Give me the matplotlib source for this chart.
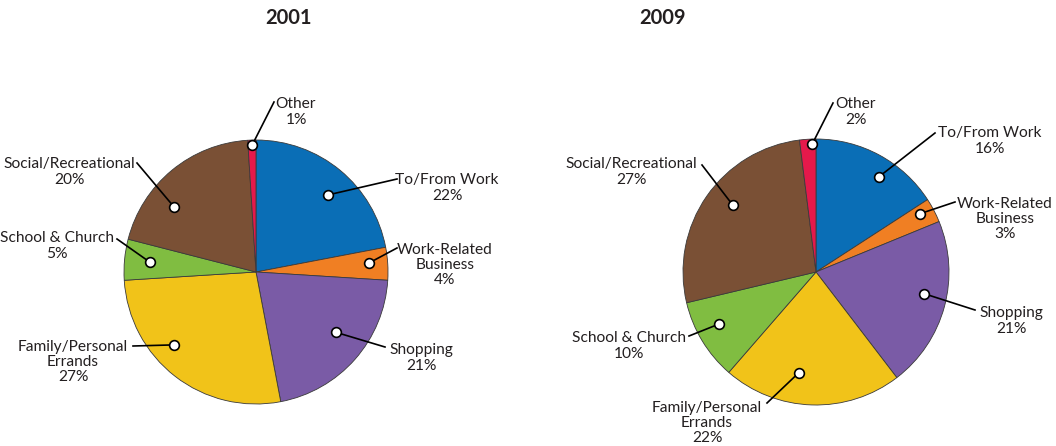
import numpy as np
import matplotlib
matplotlib.use("Agg")
import matplotlib.pyplot as plt

plt.rcParams['font.family'] = ['Lato', 'DejaVu Sans']

# data
categories = ['To/From Work', 'Work-Related\nBusiness', 'Shopping',
              'Family/Personal\nErrands', 'School & Church',
              'Social/Recreational', 'Other']
share_2001 = [22, 4, 21, 27, 5, 20, 1]
share_2009 = [16, 3, 21, 22, 10, 27, 2]
years = ['2001', '2009']

colors = ['#0A6EB6', '#F07F23', '#7A5BA6', '#F1C319', '#80BD41', '#7A5035', '#E5194B']

W, H = 1056, 446
fig = plt.figure(figsize=(W / 100, H / 100), dpi=100)
ax = fig.add_axes([0, 0, 1, 1])


def Y(y):
    return H - y


# layout: pie centre / radius in pixels, title position
pies = [
    dict(values=share_2001, center=(256, 272), radius=132, title=(288, 18),
         # (dot radius frac, angle shift, text x, text y, line end x, line end y)
         labels=[(0.80, -3.5, 447, 188, 397, 179),
                 (0.86, 1.0, 445, 265, 397, 248),
                 (0.76, 4.4, 421, 358, 385, 347),
                 (0.83, -10.5, 73, 362, 133, 346),
                 (0.81, 0.0, 57, 246, 117, 239),
                 (0.79, 12.0, 69, 172, 137, 163),
                 (0.96, 0.0, 296, 112, 274, 102)]),
    dict(values=share_2009, center=(816, 272), radius=133, title=(662, 18),
         labels=[(0.86, -5.0, 990, 141, 935, 133),
                 (0.90, 1.6, 1005, 219, 955, 202),
                 (0.83, 3.8, 1011, 321, 975, 310),
                 (0.77, -8.0, 707, 423, 767, 403),
                 (0.83, -3.0, 629, 346, 689, 336),
                 (0.80, -4.0, 631, 172, 702, 165),
                 (0.96, -1.8, 856, 112, 833, 103)]),
]

for year, p in zip(years, pies):
    cx, cy = p['center']
    r = p['radius']
    wedges, _ = ax.pie(p['values'], colors=colors, startangle=90, counterclock=False,
                       center=(cx, Y(cy)), radius=r,
                       wedgeprops=dict(edgecolor='#3a3a3a', linewidth=0.6))
    ax.text(p['title'][0], Y(p['title'][1]), year, ha='center', va='center',
            fontsize=14.5, color='#231F20', fontweight='bold')
    for w, cat, val, lab in zip(wedges, categories, p['values'], p['labels']):
        frac, shift, tx, ty, lx, ly = lab
        ang = np.deg2rad((w.theta1 + w.theta2) / 2 + shift)
        dx = cx + frac * r * np.cos(ang)
        dy = Y(cy) + frac * r * np.sin(ang)
        ax.plot([dx, lx], [dy, Y(ly)], color='black', lw=1.2, zorder=5)
        ax.plot(dx, dy, 'o', ms=7, mfc='white', mec='black', mew=1.2, zorder=6)
        ax.text(tx, Y(ty), f'{cat}\n{val}%', ha='center', va='center',
                fontsize=11.2, color='#231F20', linespacing=1.1, zorder=7)

ax.set_xlim(0, W)
ax.set_ylim(0, H)
ax.set_aspect('equal')
ax.axis('off')

fig.savefig('out.png', dpi=100)
